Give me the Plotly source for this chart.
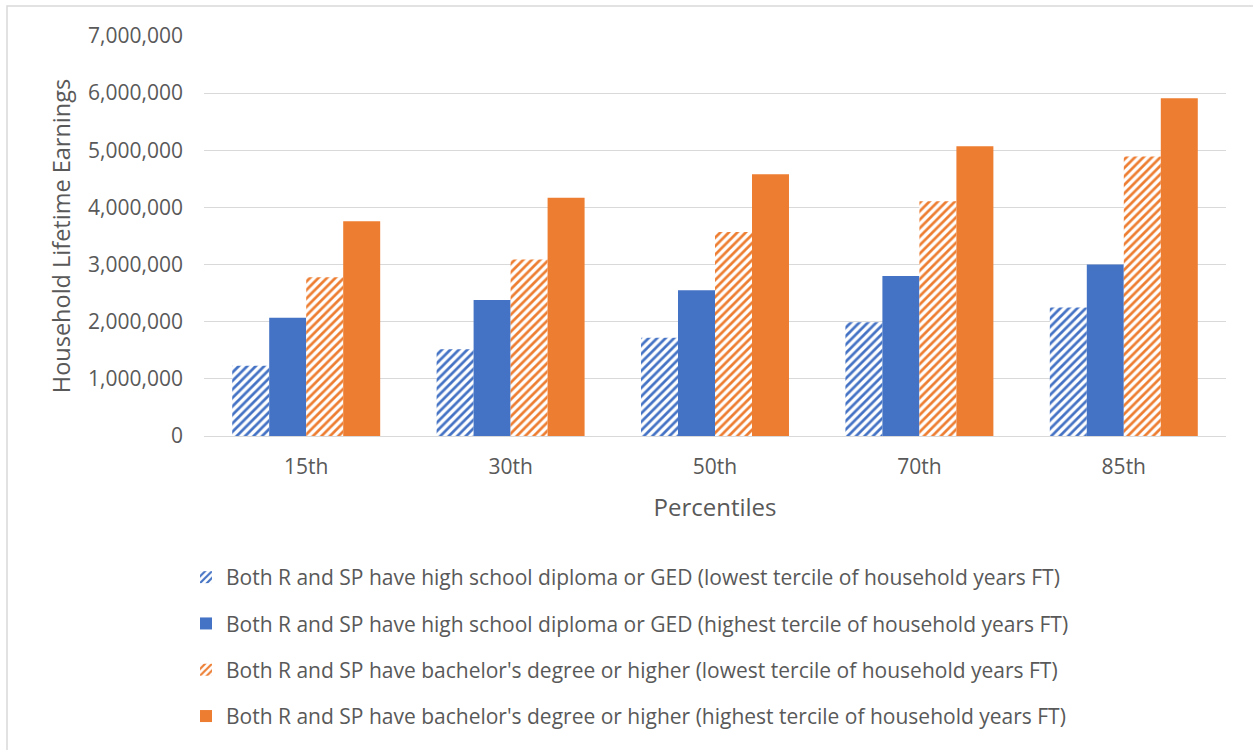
import plotly.graph_objects as go

# Household lifetime earnings by percentile and household education/work group
percentiles = ["15th", "30th", "50th", "70th", "85th"]

hs_low_ft = [1230000, 1520000, 1720000, 1990000, 2250000]
hs_high_ft = [2070000, 2380000, 2550000, 2800000, 3000000]
ba_low_ft = [2780000, 3090000, 3570000, 4110000, 4890000]
ba_high_ft = [3760000, 4170000, 4580000, 5070000, 5910000]

series_names = [
    "Both R and SP have high school diploma or GED (lowest tercile of household years FT)",
    "Both R and SP have high school diploma or GED (highest tercile of household years FT)",
    "Both R and SP have bachelor's degree or higher (lowest tercile of household years FT)",
    "Both R and SP have bachelor's degree or higher (highest tercile of household years FT)",
]
y_ticks = [0, 1000000, 2000000, 3000000, 4000000, 5000000, 6000000, 7000000]

BLUE = "#4472C4"
ORANGE = "#ED7D31"
TEXT = "#595959"
GRID = "#D9D9D9"
FONT = "'Open Sans', sans-serif"

W, H = 1253, 750
L, R, T, B = 204, 27, 36, 314
PW, PH = W - L - R, H - T - B


def bar(name, values, color, hatched, group):
    marker = dict(color=color, line=dict(width=0))
    if hatched:
        marker = dict(
            color="white",
            line=dict(width=0),
            pattern=dict(shape="/", fgcolor=color, bgcolor="white",
                         size=6, solidity=0.45, fillmode="replace"),
        )
    return go.Bar(x=percentiles, y=values, name=name, marker=marker,
                  legendgroup=group)


fig = go.Figure()
fig.add_trace(bar(series_names[0], hs_low_ft, BLUE, True, "g1"))
fig.add_trace(bar(series_names[1], hs_high_ft, BLUE, False, "g2"))
fig.add_trace(bar(series_names[2], ba_low_ft, ORANGE, True, "g3"))
fig.add_trace(bar(series_names[3], ba_high_ft, ORANGE, False, "g4"))

fig.update_layout(
    width=W, height=H,
    margin=dict(l=L, r=R, t=T, b=B, autoexpand=False),
    paper_bgcolor="white", plot_bgcolor="white",
    font=dict(family=FONT, color=TEXT, size=21),
    barmode="group", bargap=0.276, bargroupgap=0,
    legend=dict(
        orientation="v",
        x=(186 - L) / PW, xanchor="left",
        y=-(557 - T - PH) / PH, yanchor="top",
        font=dict(size=21, color=TEXT),
        traceorder="grouped", tracegroupgap=16,
        bgcolor="rgba(0,0,0,0)",
    ),
    xaxis=dict(
        showgrid=False, showline=False, zeroline=False,
        ticks="", tickfont=dict(size=21, color=TEXT),
        ticklabelstandoff=16, tickangle=0,
        title=dict(text="Percentiles", font=dict(size=24, color=TEXT), standoff=20),
    ),
    yaxis=dict(
        range=[0, 7000000], tickvals=y_ticks,
        tickformat=",d",
        showgrid=True, gridcolor=GRID, gridwidth=1.3,
        zeroline=True, zerolinecolor=GRID, zerolinewidth=1.3,
        showline=False, ticks="",
        tickfont=dict(size=21, color=TEXT),
        ticklabelstandoff=20,
        title=dict(text="Household Lifetime Earnings",
                   font=dict(size=23.5, color=TEXT), standoff=10),
    ),
    shapes=[dict(
        type="rect", xref="paper", yref="paper",
        x0=(7 - L) / PW, x1=(W + 20 - L) / PW,
        y0=-(H + 20 - T - PH) / PH, y1=1 + (T - 6) / PH,
        line=dict(color=GRID, width=1.5), fillcolor="rgba(0,0,0,0)", layer="below",
    )],
)

fig.write_html("out.html")
